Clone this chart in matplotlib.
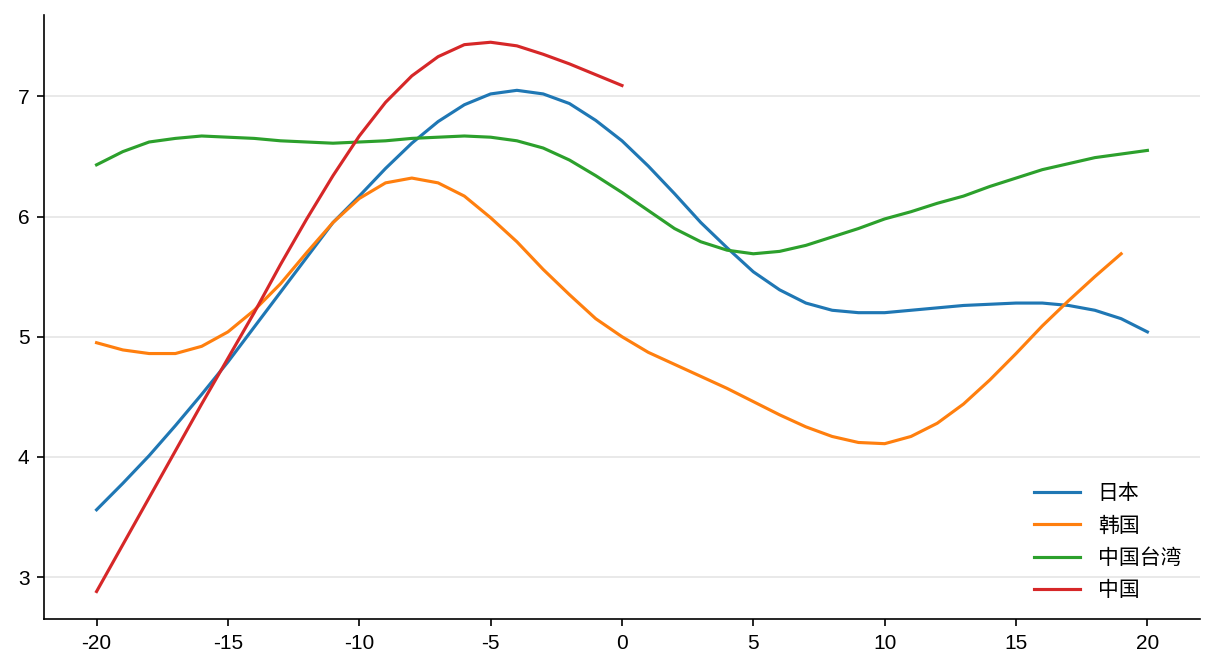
import numpy as np
import matplotlib
matplotlib.use("Agg")
import matplotlib.pyplot as plt

plt.rcParams['font.family'] = ['Liberation Sans', 'Noto Sans CJK SC', 'DejaVu Sans']
plt.rcParams['axes.unicode_minus'] = False

x_all = np.arange(-20, 21)

japan = [3.56, 3.78, 4.01, 4.26, 4.52, 4.79, 5.08, 5.37, 5.66, 5.95, 6.17,
         6.40, 6.61, 6.79, 6.93, 7.02, 7.05, 7.02, 6.94, 6.80, 6.63,
         6.42, 6.19, 5.95, 5.74, 5.54, 5.39, 5.28, 5.22, 5.20, 5.20,
         5.22, 5.24, 5.26, 5.27, 5.28, 5.28, 5.26, 5.22, 5.15, 5.04]

korea = [4.95, 4.89, 4.86, 4.86, 4.92, 5.04, 5.22, 5.44, 5.70, 5.95, 6.15,
         6.28, 6.32, 6.28, 6.17, 5.99, 5.79, 5.56, 5.35, 5.15, 5.00,
         4.87, 4.77, 4.67, 4.57, 4.46, 4.35, 4.25, 4.17, 4.12, 4.11,
         4.17, 4.28, 4.44, 4.64, 4.86, 5.09, 5.30, 5.50, 5.69]

taiwan = [6.43, 6.54, 6.62, 6.65, 6.67, 6.66, 6.65, 6.63, 6.62, 6.61, 6.62,
          6.63, 6.65, 6.66, 6.67, 6.66, 6.63, 6.57, 6.47, 6.34, 6.20,
          6.05, 5.90, 5.79, 5.72, 5.69, 5.71, 5.76, 5.83, 5.90, 5.98,
          6.04, 6.11, 6.17, 6.25, 6.32, 6.39, 6.44, 6.49, 6.52, 6.55]

china = [2.88, 3.27, 3.66, 4.05, 4.44, 4.82, 5.20, 5.60, 5.98, 6.34, 6.67,
         6.95, 7.17, 7.33, 7.43, 7.45, 7.42, 7.35, 7.27, 7.18, 7.09]

series = [("日本", japan, "#1f77b4"),
          ("韩国", korea, "#ff7f0e"),
          ("中国台湾", taiwan, "#2ca02c"),
          ("中国", china, "#d62728")]

fig = plt.figure(figsize=(1216 / 150, 672 / 150), dpi=150)
ax = fig.add_axes([0.0362, 0.0789, 0.9506, 0.8991])

for name, vals, col in series:
    ax.plot(x_all[:len(vals)], vals, color=col, lw=1.5, label=name)

ax.set_xticks([-20, -15, -10, -5, 0, 5, 10, 15, 20])
ax.set_yticks([3, 4, 5, 6, 7])
ax.grid(axis='y', color='#e5e5e5', lw=0.8)
ax.set_axisbelow(True)
ax.spines['top'].set_visible(False)
ax.spines['right'].set_visible(False)

ax.legend(loc='lower right', frameon=False, labelspacing=0.62,
          handlelength=2.2, handletextpad=0.85)

fig.savefig("out.png", dpi=150)
